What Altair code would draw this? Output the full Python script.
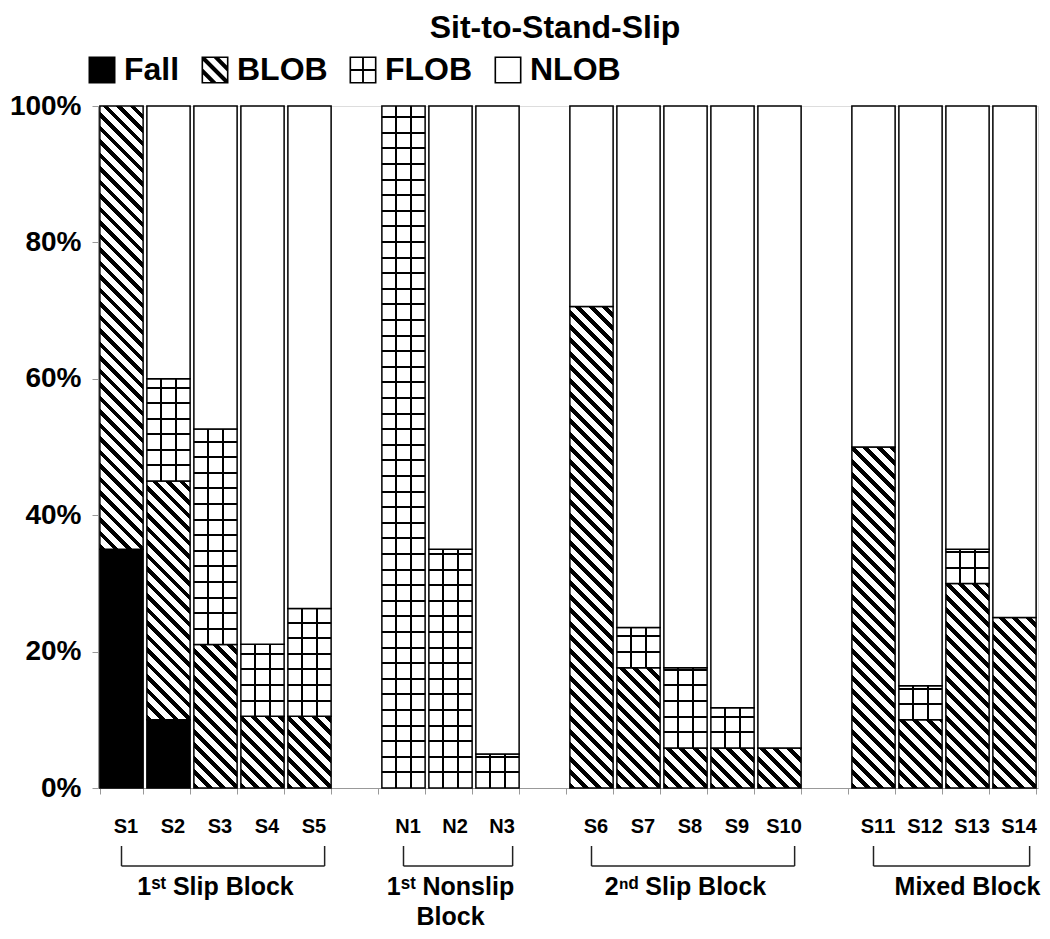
import altair as alt

# ---------------- data ----------------
x_domain = ["S1", "S2", "S3", "S4", "S5", " ", "N1", "N2", "N3", "  ",
            "S6", "S7", "S8", "S9", "S10", "   ", "S11", "S12", "S13", "S14"]
bar_cats = ["S1", "S2", "S3", "S4", "S5", "N1", "N2", "N3",
            "S6", "S7", "S8", "S9", "S10", "S11", "S12", "S13", "S14"]
series_names = ["Fall", "BLOB", "FLOB", "NLOB"]
fall = [35, 10, 0, 0, 0, 0, 0, 0, 0, 0, 0, 0, 0, 0, 0, 0, 0]
blob = [65, 35, 21.05, 10.53, 10.53, 0, 0, 0, 70.59, 17.65, 5.88, 5.88, 5.88, 50, 10, 30, 25]
flob = [0, 15, 31.58, 10.53, 15.79, 100, 35, 5, 0, 5.88, 11.76, 5.88, 0, 0, 5, 5, 0]
nlob = [0, 40, 47.37, 78.95, 73.68, 0, 65, 95, 29.41, 76.47, 82.35, 88.24, 94.12, 50, 85, 65, 75]
y_ticks = [0, 20, 40, 60, 80, 100]

group_labels = ["1\u02e2\u1d57 Slip Block", "1\u02e2\u1d57 Nonslip\nBlock",
                "2\u207f\u1d48 Slip Block", "Mixed Block"]
group_first = ["S1", "N1", "S6", "S11"]
group_last = ["S5", "N3", "S10", "S14"]
group_anchor = ["S3", "N2", "S8", "S13"]

# ---------------- layout / style ----------------
W, H = 940, 682
PAD_INNER, PAD_OUTER = 0.08, 0.04
FONT = "Liberation Sans"
step = W / (len(x_domain) - PAD_INNER + 2 * PAD_OUTER)
bw = step * (1 - PAD_INNER)


def stop(o, c):
    return {"offset": round(max(0.0, min(1.0, o)), 5), "color": c}


def diag_grad(w, h, period=13.5, frac=0.42):
    k = (w + h) / (w * w + h * h)
    n = (w + h) / period
    stops = []
    i = 0
    while i < n:
        a, b, c = i / n, (i + frac) / n, (i + 1) / n
        stops += [stop(a, "black"), stop(b, "black"), stop(b, "white"), stop(c, "white")]
        i += 1
    return {"gradient": "linear", "x1": 0, "y1": 1,
            "x2": round(k * w, 6), "y2": round(1 - k * h, 6), "stops": stops}


def vlines_grad(w, lw=2.0):
    t = lw / w / 2
    stops = [stop(0, "white")]
    for p in (1 / 3, 2 / 3):
        stops += [stop(p - t, "white"), stop(p - t, "black"),
                  stop(p + t, "black"), stop(p + t, "white")]
    stops.append(stop(1, "white"))
    return {"gradient": "linear", "x1": 0, "y1": 0, "x2": 1, "y2": 0, "stops": stops}


def hlines_grad(h, cell=15.6, lw=2.0):
    t = lw / h / 2
    stops = [stop(0, "transparent")]
    k = 1
    while k * cell < h - lw:
        p = k * cell / h
        stops += [stop(p - t, "transparent"), stop(p - t, "black"),
                  stop(p + t, "black"), stop(p + t, "transparent")]
        k += 1
    stops.append(stop(1, "transparent"))
    return {"gradient": "linear", "x1": 0, "y1": 1, "x2": 0, "y2": 0, "stops": stops}


rows = []
for i, cat in enumerate(bar_cats):
    for j, (s, vals) in enumerate(zip(series_names, [fall, blob, flob, nlob])):
        v = vals[i]
        h = v / 100 * H
        if v <= 0:
            f, ov = "white", "transparent"
        elif s == "Fall":
            f, ov = "black", "transparent"
        elif s == "BLOB":
            f, ov = diag_grad(bw, h), "transparent"
        elif s == "FLOB":
            f, ov = vlines_grad(bw), hlines_grad(h)
        else:
            f, ov = "white", "transparent"
        rows.append({"cat": cat, "series": s, "order": j, "value": v, "fill": f, "overlay": ov})

groups = [{"label": l, "first": a, "last": b, "anchor": c}
          for l, a, b, c in zip(group_labels, group_first, group_last, group_anchor)]


# ---------------- legend symbols as filled SVG paths (unit square -1..1) ----------------
def clip(poly, a, b, c):
    """keep a*x + b*y <= c"""
    out = []
    n = len(poly)
    for k in range(n):
        p, q = poly[k], poly[(k + 1) % n]
        fp = a * p[0] + b * p[1] - c
        fq = a * q[0] + b * q[1] - c
        if fp <= 0:
            out.append(p)
        if (fp < 0 < fq) or (fq < 0 < fp):
            t = fp / (fp - fq)
            out.append((p[0] + t * (q[0] - p[0]), p[1] + t * (q[1] - p[1])))
    return out


def poly_path(poly):
    return "M" + "L".join(f"{x:.3f},{y:.3f}" for x, y in poly) + "Z"


FR = 0.88
outer = "M-1,-1H1V1H-1Z"
frame = outer + f" M-{FR},-{FR}V{FR}H{FR}V-{FR}Z"
inner_sq = [(-FR, -FR), (FR, -FR), (FR, FR), (-FR, FR)]
stripes = ""
for c0 in (-1.0, 0.0, 1.0):
    p = clip(inner_sq, 1, -1, c0 + 0.21)
    p = clip(p, -1, 1, -(c0 - 0.21))
    if len(p) >= 3:
        stripes += " " + poly_path(p)
cross = " M-0.07,-0.9H0.07V0.9H-0.07Z M-0.9,-0.07H0.9V0.07H-0.9Z"
legend_shapes = [outer, frame + stripes, frame + cross, frame]

# ---------------- chart ----------------
x_scale = alt.Scale(domain=x_domain, paddingInner=PAD_INNER, paddingOuter=PAD_OUTER)
x_axis = alt.Axis(title=None, labelAngle=0, labelFont=FONT, labelFontWeight="bold",
                  labelFontSize=20, labelColor="black", labelPadding=22, labelOffset=4,
                  tickBand="extent", tickColor="#999999", tickSize=6,
                  domainColor="#999999", labelOverlap=False)
y_scale = alt.Scale(domain=[0, 100], nice=False)
y_axis = alt.Axis(title=None, values=y_ticks, labelExpr="datum.value + '%'",
                  labelFont=FONT, labelFontWeight="bold", labelFontSize=28,
                  labelColor="black", labelPadding=11, tickColor="#999999",
                  tickSize=6, domainColor="#999999", grid=False)

seg = alt.Chart(alt.Data(values=rows)).transform_stack(
    stack="value", groupby=["cat"], as_=["y0", "y1"],
    sort=[alt.SortField("order", "ascending")]
).transform_filter("datum.value > 0")

# hidden points (under the bars) that carry the legend
keys = seg.transform_calculate(ym="(datum.y0 + datum.y1) / 2").mark_point(
    filled=True, size=1, color="black", strokeWidth=0, opacity=1
).encode(
    x=alt.X("cat:N", scale=x_scale, axis=x_axis, sort=None),
    y=alt.Y("ym:Q", scale=y_scale, axis=y_axis),
    shape=alt.Shape(
        "series:N",
        scale=alt.Scale(domain=series_names, range=legend_shapes),
        legend=alt.Legend(
            title=None, orient="none", legendX=-12, legendY=-52,
            direction="horizontal", symbolSize=729, symbolStrokeWidth=0,
            symbolFillColor="black", symbolOpacity=1, labelFont=FONT,
            labelFontWeight="bold", labelFontSize=32, labelColor="black",
            labelOffset=6, columnPadding=19, padding=0,
        ),
    ),
)

bars = seg.mark_bar(strokeWidth=1.5, stroke="black").encode(
    x=alt.X("cat:N", axis=x_axis),
    y=alt.Y("y0:Q", axis=y_axis),
    y2="y1:Q",
    fill=alt.Fill("fill:N", scale=None, legend=None),
)

overlay = seg.transform_filter("datum.series === 'FLOB'").mark_bar(strokeWidth=0).encode(
    x=alt.X("cat:N", axis=x_axis),
    y=alt.Y("y0:Q", axis=y_axis),
    y2="y1:Q",
    fill=alt.Fill("overlay:N", scale=None, legend=None),
)

gbase = alt.Chart(alt.Data(values=groups))
BR_TOP, BR_BOT = 740, 760
rule_style = dict(color="#222222", strokeWidth=1.5)
left_tick = gbase.mark_rule(**rule_style).encode(
    x=alt.X("first:N", bandPosition=0.5, axis=x_axis),
    y=alt.value(BR_TOP), y2=alt.value(BR_BOT))
right_tick = gbase.mark_rule(**rule_style).encode(
    x=alt.X("last:N", bandPosition=0.85, axis=x_axis),
    y=alt.value(BR_TOP), y2=alt.value(BR_BOT))
hline = gbase.mark_rule(**rule_style).encode(
    x=alt.X("first:N", bandPosition=0.5, axis=x_axis),
    x2=alt.X2("last:N", bandPosition=0.85),
    y=alt.value(BR_BOT))
glabels = gbase.mark_text(font=FONT, fontWeight="bold", fontSize=25, color="black",
                          align="center", baseline="alphabetic", lineBreak="\n",
                          lineHeight=30).encode(
    x=alt.X("anchor:N", bandPosition=0.5, axis=x_axis),
    y=alt.value(789),
    text="label:N")

chart = alt.layer(keys, bars, overlay, left_tick, right_tick, hline, glabels).properties(
    width=W, height=H,
    title=alt.TitleParams("Sit-to-Stand-Slip", font=FONT, fontWeight="bold", fontSize=32,
                          color="black", anchor="middle", frame="group", offset=9, dx=-13),
    padding={"left": 90, "top": 98, "right": 4, "bottom": 143},
    autosize=alt.AutoSizeParams(type="none"),
).configure_view(stroke=None).configure(background="white", font=FONT)

chart.save("out.html", embed_options={"renderer": "svg", "actions": False})
